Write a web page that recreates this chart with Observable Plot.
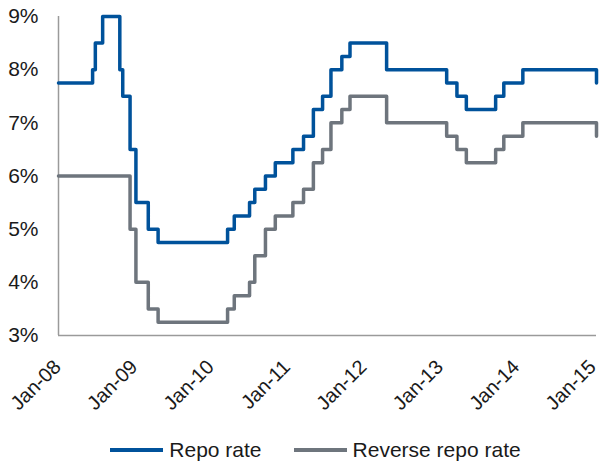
<!DOCTYPE html>
<html>
<head>
<meta charset="utf-8">
<script src="https://cdn.jsdelivr.net/npm/d3@7"></script>
<script src="https://cdn.jsdelivr.net/npm/@observablehq/plot@0.6"></script>
<style>
  html, body { margin: 0; padding: 0; background: #fff; }
  body { width: 600px; height: 463px; overflow: hidden; font-family: "Liberation Sans", Arial, sans-serif; }
  #legend { display: flex; justify-content: center; align-items: center; height: 50px; gap: 32px; font-size: 21px; color: #1a1a1a; padding-left: 31px; }
  .item { display: flex; align-items: center; gap: 6px; }
  .swatch { width: 53px; height: 4px; }
</style>
</head>
<body>
<div id="chart"></div>
<div id="legend"></div>
<script>
// Policy rate change dates and the rate in force from each date (%)
const repoDates = ["2008-01-01","2008-06-12","2008-06-25","2008-07-30","2008-10-20","2008-11-03","2008-12-08","2009-01-05","2009-03-05","2009-04-21","2010-03-19","2010-04-20","2010-07-02","2010-07-27","2010-09-16","2010-11-02","2011-01-25","2011-03-17","2011-05-03","2011-06-16","2011-07-26","2011-09-16","2011-10-25","2012-04-17","2013-01-29","2013-03-19","2013-05-03","2013-09-20","2013-10-29","2014-01-28","2015-01-15"];
const repoRate = [7.75,8.0,8.5,9.0,8.0,7.5,6.5,5.5,5.0,4.75,5.0,5.25,5.5,5.75,6.0,6.25,6.5,6.75,7.25,7.5,8.0,8.25,8.5,8.0,7.75,7.5,7.25,7.5,7.75,8.0,7.75];

const reverseDates = ["2008-01-01","2008-12-08","2009-01-05","2009-03-05","2009-04-21","2010-03-19","2010-04-20","2010-07-02","2010-07-27","2010-09-16","2010-11-02","2011-01-25","2011-03-17","2011-05-03","2011-06-16","2011-07-26","2011-09-16","2011-10-25","2012-04-17","2013-01-29","2013-03-19","2013-05-03","2013-09-20","2013-10-29","2014-01-28","2015-01-15"];
const reverseRate = [6.0,5.0,4.0,3.5,3.25,3.5,3.75,4.0,4.5,5.0,5.25,5.5,5.75,6.25,6.5,7.0,7.25,7.5,7.0,6.75,6.5,6.25,6.5,6.75,7.0,6.75];

const yTicks = [3,4,5,6,7,8,9];
const xTickYears = [2008,2009,2010,2011,2012,2013,2014,2015];

const seriesNames = ["Repo rate", "Reverse repo rate"];
const seriesColors = ["#00529b", "#6e757d"];

const repo = repoDates.map((d, i) => ({date: new Date(d), value: repoRate[i]}));
const reverse = reverseDates.map((d, i) => ({date: new Date(d), value: reverseRate[i]}));

const fmtTick = d3.utcFormat("%b-%y");

const chart = Plot.plot({
  width: 600,
  height: 425,
  marginTop: 16,
  marginLeft: 58,
  marginRight: 4,
  marginBottom: 90,
  style: {fontFamily: "'Liberation Sans', Arial, sans-serif", fontSize: "21px", color: "#1a1a1a", background: "#fff"},
  x: {type: "utc", domain: [new Date("2008-01-01"), new Date("2015-01-15")]},
  y: {domain: [3, 9]},
  marks: [
    Plot.axisY({ticks: yTicks, tickFormat: d => d + "%", tickSize: 0, tickPadding: 20, label: null, fontSize: 21}),
    Plot.axisX({ticks: xTickYears.map(y => new Date(Date.UTC(y, 0, 1))), tickFormat: fmtTick, tickSize: 0, tickRotate: -45, tickPadding: 28, dx: -1, label: null, fontSize: 20}),
    Plot.ruleX([new Date("2008-01-01")], {stroke: "#9a9a9a", strokeWidth: 1.5}),
    Plot.ruleY([3], {stroke: "#9a9a9a", strokeWidth: 1.5}),
    Plot.line(reverse, {x: "date", y: "value", curve: "step-after", stroke: seriesColors[1], strokeWidth: 3.5}),
    Plot.line(repo, {x: "date", y: "value", curve: "step-after", stroke: seriesColors[0], strokeWidth: 3.5})
  ]
});
document.getElementById("chart").appendChild(chart);

const legend = document.getElementById("legend");
seriesNames.forEach((name, i) => {
  const item = document.createElement("div");
  item.className = "item";
  const sw = document.createElement("div");
  sw.className = "swatch";
  sw.style.background = seriesColors[i];
  const label = document.createElement("span");
  label.textContent = name;
  item.appendChild(sw);
  item.appendChild(label);
  legend.appendChild(item);
});
</script>
</body>
</html>
